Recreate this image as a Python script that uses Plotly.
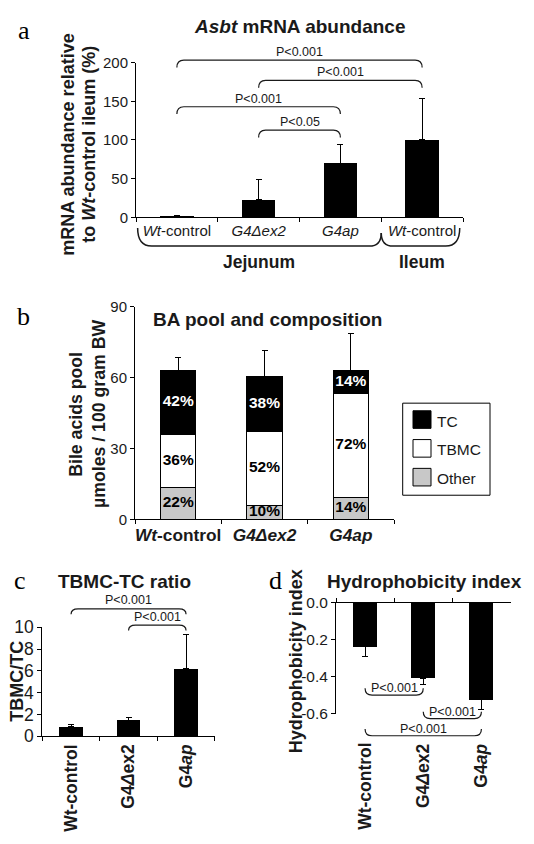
import plotly.graph_objects as go

W, H = 534, 844
FONT = "Liberation Sans, Arial, sans-serif"
SERIF = "Liberation Serif, Times New Roman, serif"
INK = "#1a1a1a"

# ---------------- data ----------------
# Panel a : Asbt mRNA abundance
a_keys = ["jej_wt", "jej_g4dex2", "jej_g4ap", "ile_wt"]
a_labels = ["<i>Wt</i>-control", "<i>G4Δex2</i>", "<i>G4ap</i>", "<i>Wt</i>-control"]
a_values = [1.5, 22.8, 69.6, 100.0]
a_errors = [0.3, 25.7, 24.4, 53.9]
a_yticks = [0, 50, 100, 150, 200]
a_groups = ["Jejunum", "Ileum"]
a_pvals = ["P<0.001", "P<0.001", "P<0.001", "P<0.05"]
a_pairs = [(0, 3), (1, 3), (0, 2), (1, 2)]

# Panel b : BA pool and composition
b_keys = ["wt", "g4dex2", "g4ap"]
b_labels = ["<b><i>Wt</i>-control</b>", "<b><i>G4Δex2</i></b>", "<b><i>G4ap</i></b>"]
b_series = ["Other", "TBMC", "TC"]
b_other = [13.4, 6.0, 9.2]
b_tbmc = [22.6, 31.0, 44.2]
b_tc = [27.1, 23.4, 9.7]
b_pct_other = ["22%", "10%", "14%"]
b_pct_tbmc = ["36%", "52%", "72%"]
b_pct_tc = ["42%", "38%", "14%"]
b_errors = [5.4, 10.9, 15.7]
b_yticks = [0, 30, 60, 90]
b_colors = ["#c8c8c8", "#ffffff", "#000000"]

# Panel c : TBMC-TC ratio
c_keys = ["wt", "g4dex2", "g4ap"]
c_labels = ["<b>Wt-control</b>", "<b>G4<i>Δ</i>ex2</b>", "<b>G4<i>ap</i></b>"]
c_values = [0.9, 1.49, 6.18]
c_errors = [0.2, 0.2, 3.2]
c_yticks = [0, 2, 4, 6, 8, 10]
c_pvals = ["P<0.001", "P<0.001"]
c_pairs = [(0, 2), (1, 2)]

# Panel d : Hydrophobicity index
d_keys = ["wt", "g4dex2", "g4ap"]
d_labels = ["<b>Wt-control</b>", "<b>G4<i>Δ</i>ex2</b>", "<b>G4<i>ap</i></b>"]
d_values = [-0.237, -0.406, -0.524]
d_errors = [0.055, 0.036, 0.053]
d_yticks = [0.0, -0.2, -0.4, -0.6]
d_yticktext = ["0.0", "-0.2", "-0.4", "-0.6"]
d_pvals = ["P<0.001", "P<0.001", "P<0.001"]
d_pairs = [(0, 1), (1, 2), (0, 2)]

# ---------------- layout geometry (pixels) ----------------
PANELS = {
    "a": dict(xpx=(136, 463), ypx=(54, 212.3), yr=(0, 200), n=4),
    "b": dict(xpx=(135, 394), ypx=(304, 521.7), yr=(0, 90), n=3),
    "c": dict(xpx=(42.3, 214.8), ypx=(632.3, 744), yr=(0, 10), n=3),
    "d": dict(xpx=(336, 510.5), ypx=(607.3, 721), yr=(-0.6, 0), n=3),
}


def PX(px):
    return px / W


def PY(py):
    return 1 - py / H


def xpix(p, xv):
    P = PANELS[p]
    x0, x1 = P["xpx"]
    return x0 + (xv + 0.5) / P["n"] * (x1 - x0)


def ypix(p, yv):
    P = PANELS[p]
    y0, y1 = P["ypx"]
    r0, r1 = P["yr"]
    return y1 - (yv - r0) / (r1 - r0) * (y1 - y0)


def xdom(p):
    x0, x1 = PANELS[p]["xpx"]
    return [PX(x0), PX(x1)]


def ydom(p):
    y0, y1 = PANELS[p]["ypx"]
    return [PY(y1), PY(y0)]


shapes = []
annotations = []


def ann(x, y, text, size, color=INK, family=FONT, angle=0, xanchor="center", yanchor="middle"):
    annotations.append(dict(x=PX(x), y=PY(y), xref="paper", yref="paper", text=text,
                            showarrow=False, textangle=angle, xanchor=xanchor, yanchor=yanchor,
                            font=dict(family=family, size=size, color=color)))


def bracket(x0, x1, yl, ye, r=7, width=1.2):
    path = (f"M {PX(x0)},{PY(ye)} Q {PX(x0)},{PY(yl)} {PX(x0 + r)},{PY(yl)} "
            f"L {PX(x1 - r)},{PY(yl)} Q {PX(x1)},{PY(yl)} {PX(x1)},{PY(ye)}")
    shapes.append(dict(type="path", path=path, xref="paper", yref="paper",
                       line=dict(color=INK, width=width)))


fig = go.Figure()

err_style = dict(type="data", symmetric=False, color="black", thickness=1, width=3)

# ---- panel a
fig.add_trace(go.Bar(x=a_keys, y=a_values, width=0.41, marker=dict(color="black", line=dict(width=0)),
                     error_y=dict(array=a_errors, arrayminus=[0] * len(a_errors), **err_style),
                     xaxis="x", yaxis="y"))

# ---- panel b (stacked)
b_stack = [b_other, b_tbmc, b_tc]
for i, (name, vals, col) in enumerate(zip(b_series, b_stack, b_colors)):
    kw = {}
    if name == "TC":
        kw["error_y"] = dict(array=b_errors, arrayminus=[0] * len(b_errors), **err_style)
    fig.add_trace(go.Bar(x=b_keys, y=vals, name=name, width=0.41,
                         marker=dict(color=col, line=dict(color="black", width=1)),
                         xaxis="x2", yaxis="y2", **kw))

# percentage labels at the middle of each segment
b_pcts = [b_pct_other, b_pct_tbmc, b_pct_tc]
txt_colors = ["black", "black", "white"]
base = [0.0] * len(b_keys)
for vals, pcts, tc in zip(b_stack, b_pcts, txt_colors):
    mids = [bs + v / 2 for bs, v in zip(base, vals)]
    fig.add_trace(go.Scatter(x=b_keys, y=mids, mode="text", text=[f"<b>{t}</b>" for t in pcts],
                             textfont=dict(family=FONT, size=15.5, color=tc), cliponaxis=False,
                             hoverinfo="skip", xaxis="x2", yaxis="y2"))
    base = [bs + v for bs, v in zip(base, vals)]

# ---- panel c
fig.add_trace(go.Bar(x=c_keys, y=c_values, width=0.41, marker=dict(color="black", line=dict(width=0)),
                     error_y=dict(array=c_errors, arrayminus=[0] * len(c_errors), **err_style),
                     xaxis="x3", yaxis="y3"))

# ---- panel d
fig.add_trace(go.Bar(x=d_keys, y=d_values, width=0.41, marker=dict(color="black", line=dict(width=0)),
                     error_y=dict(array=[0] * len(d_errors), arrayminus=d_errors, **err_style),
                     xaxis="x4", yaxis="y4"))

axis_common = dict(showline=True, linecolor="black", linewidth=1, ticks="outside", ticklen=4,
                   tickcolor="black", tickwidth=1, showgrid=False, zeroline=False)

layout = dict(
    width=W, height=H, margin=dict(l=0, r=0, t=0, b=0), autosize=False,
    paper_bgcolor="white", plot_bgcolor="white", showlegend=False, barmode="stack",
    font=dict(family=FONT, color=INK),
    xaxis=dict(domain=xdom("a"), anchor="y", type="category", tickmode="array", tickvals=a_keys,
               ticktext=a_labels, range=[-0.5, 3.5], tickson="boundaries", tickangle=0,
               tickfont=dict(size=15, family=FONT, color=INK), **axis_common),
    yaxis=dict(domain=ydom("a"), anchor="x", range=list(PANELS["a"]["yr"]), tickmode="array",
               tickvals=a_yticks, tickfont=dict(size=15, family=FONT, color=INK), **axis_common),
    xaxis2=dict(domain=xdom("b"), anchor="y2", type="category", tickmode="array", tickvals=b_keys,
                ticktext=b_labels, range=[-0.5, 2.5], tickson="boundaries", tickangle=0,
                tickfont=dict(size=17.3, family=FONT, color=INK), **axis_common),
    yaxis2=dict(domain=ydom("b"), anchor="x2", range=list(PANELS["b"]["yr"]), tickmode="array",
                tickvals=b_yticks, tickfont=dict(size=15, family=FONT, color=INK), **axis_common),
    xaxis3=dict(domain=xdom("c"), anchor="y3", type="category", tickmode="array", tickvals=c_keys,
                ticktext=c_labels, range=[-0.5, 2.5], tickson="boundaries", tickangle=-90,
                tickfont=dict(size=17.5, family=FONT, color=INK), **axis_common),
    yaxis3=dict(domain=ydom("c"), anchor="x3", range=list(PANELS["c"]["yr"]), tickmode="array",
                tickvals=c_yticks, tickfont=dict(size=17.5, family=FONT, color=INK), **axis_common),
    xaxis4=dict(domain=xdom("d"), anchor="y4", side="top", type="category", tickmode="array",
                tickvals=d_keys, ticktext=d_labels, range=[-0.5, 2.5], tickson="boundaries",
                showticklabels=False, **axis_common),
    yaxis4=dict(domain=ydom("d"), anchor="x4", range=list(PANELS["d"]["yr"]), tickmode="array",
                tickvals=d_yticks, ticktext=d_yticktext,
                tickfont=dict(size=15.5, family=FONT, color=INK), **axis_common),
)

# ---------------- annotations ----------------
# panel letters
ann(23.8, 21, "a", 26, family=SERIF, color="black")
ann(23.8, 314, "b", 26, family=SERIF, color="black")
ann(19.5, 584, "c", 26, family=SERIF, color="black")
ann(275, 584, "d", 26, family=SERIF, color="black")

# titles
ann(299.5, 17, "<b><i>Asbt</i> mRNA abundance</b>", 19)
ann(267, 317, "<b>BA pool and composition</b>", 19)
ann(124, 585.5, "<b>TBMC-TC ratio</b>", 19)
ann(425, 585.5, "<b>Hydrophobicity index</b>", 19)

# axis titles
ann(68, 138, "<b>mRNA abundance relative</b>", 18, angle=-90)
ann(89, 138, "<b>to <i>Wt</i>-control ileum (%)</b>", 18, angle=-90)
ann(76.6, 414, "<b>Bile acids pool</b>", 17.7, angle=-90)
ann(98.8, 414, "<b>µmoles / 100 gram BW</b>", 17.7, angle=-90)
ann(17, 688, "<b>TBMC/TC</b>", 18, angle=-90)
ann(296, 667, "<b>Hydrophobicity index</b>", 18, angle=-90)

# panel a: group braces and labels
ya0 = PANELS["a"]["ypx"][1]
xl, xm, xr = xpix("a", -0.48), xpix("a", 2.5), xpix("a", 3.46)
yt, yb, ytip = ya0 + 11, ya0 + 29.5, ya0 + 16
for p in [
    f"M {PX(xl)},{PY(yt)} Q {PX(xl)},{PY(yb)} {PX(xl + 14)},{PY(yb)} L {PX(xm - 12)},{PY(yb)} "
    f"Q {PX(xm)},{PY(yb)} {PX(xm)},{PY(ytip)}",
    f"M {PX(xm)},{PY(ytip)} Q {PX(xm)},{PY(yb)} {PX(xm + 12)},{PY(yb)} L {PX(xr - 14)},{PY(yb)} "
    f"Q {PX(xr)},{PY(yb)} {PX(xr)},{PY(yt)}",
]:
    shapes.append(dict(type="path", path=p, xref="paper", yref="paper", line=dict(color=INK, width=1.5)))
ann(xpix("a", 1), ya0 + 46, f"<b>{a_groups[0]}</b>", 17.5)
ann(xpix("a", 3), ya0 + 46, f"<b>{a_groups[1]}</b>", 17.5)

# panel a: significance brackets (levels in data units)
a_levels = [203.3, 177.2, 143.0, 112.7]
for (i, j), lev, lab in zip(a_pairs, a_levels, a_pvals):
    x0, x1, yl = xpix("a", i), xpix("a", j), ypix("a", lev)
    bracket(x0, x1, yl, yl + 7.5)
    ann((x0 + x1) / 2, yl - 8.3, lab, 12.5)

# panel c brackets
c_levels = [11.7, 10.2]
for (i, j), lev, lab in zip(c_pairs, c_levels, c_pvals):
    x0, x1, yl = xpix("c", i), xpix("c", j), ypix("c", lev)
    bracket(x0, x1, yl, yl + 5.5)
    ann((x0 + x1) / 2, yl - 8.8, lab, 12.5)

# panel d brackets (opening upward)
d_levels = [-0.498, -0.625, -0.718]
for (i, j), lev, lab in zip(d_pairs, d_levels, d_pvals):
    x0, x1, yl = xpix("d", i), xpix("d", j), ypix("d", lev)
    bracket(x0, x1, yl, yl - 7)
    ann((x0 + x1) / 2, yl - 7, lab, 12.5)

# panel d category labels (below the plot, axis line sits at the top)
for i, lab in enumerate(d_labels):
    ann(xpix("d", i), 749, lab, 17.5, angle=-90, yanchor="top")

# panel b legend (custom box)
shapes.append(dict(type="rect", xref="paper", yref="paper", x0=PX(402.7), x1=PX(490), y0=PY(497),
                   y1=PY(402.7), line=dict(color="black", width=1), fillcolor="white"))
leg_rows = [419.5, 449.0, 478.5]
for row_y, name, col in zip(leg_rows, b_series[::-1], b_colors[::-1]):
    shapes.append(dict(type="rect", xref="paper", yref="paper", x0=PX(413), x1=PX(431),
                       y0=PY(row_y + 9), y1=PY(row_y - 9), line=dict(color="black", width=1),
                       fillcolor=col))
    ann(435, row_y + 1.5, name, 15.5, xanchor="left")

layout["shapes"] = shapes
layout["annotations"] = annotations
fig.update_layout(**layout)
fig.write_html("out.html", config={"displayModeBar": False, "staticPlot": True},
               post_script="document.body.style.margin='0';document.body.style.padding='0';"
                           "document.body.style.overflow='hidden';")
